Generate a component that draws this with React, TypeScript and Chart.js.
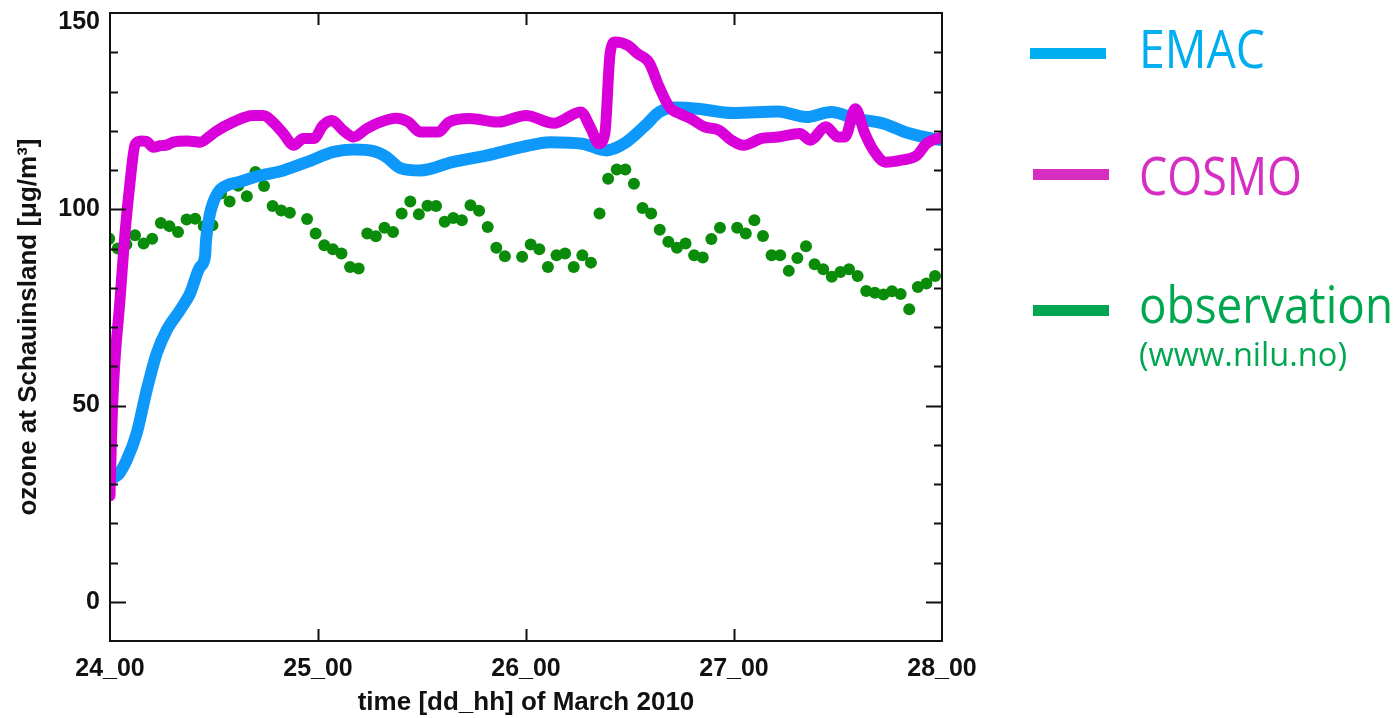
import React, { useEffect, useRef } from 'react';
import { Chart, registerables } from 'chart.js';

Chart.register(...registerables);

// ---------------- data ----------------
const dayLabels = ['24_00', '25_00', '26_00', '27_00', '28_00'];
const yLabelValues = [0, 50, 100, 150];

// EMAC model (hours since 24_00)
const emacHours = [
  0.35, 1.0, 1.93, 3.08, 4.23, 5.39, 6.54, 8.08, 9.23, 10.38, 10.96, 11.08, 11.54, 12.5, 13.5, 15.0,
  17.0, 20.0, 22.7, 25.8, 28.1, 30.4, 31.9, 33.5, 35.8, 39.5, 43.5, 47.6, 50.8, 54.5, 57.3, 59.3,
  61.8, 63.4, 65.4, 67.8, 71.9, 77.1, 80.4, 83.2, 86.0, 89.3, 91.7, 94.2, 96.0,
];
const emacValues = [
  31.5, 32.5, 36.1, 42.9, 53.9, 63.3, 69.2, 74.3, 78.5, 85.3, 87.9, 92.1, 98.9, 104.4, 106.1, 107,
  108.4, 109.9, 112, 114.6, 115.2, 114.8, 113.3, 110.5, 109.9, 112, 113.7, 115.9, 117.1, 116.7, 115, 116.7,
  121.4, 124.8, 125.9, 125.6, 124.5, 124.9, 123.5, 124.8, 123.1, 121.8, 119.7, 118.3, 117.6,
];

// COSMO model (hours since 24_00)
const cosmoHours = [
  0, 0.15, 0.3, 0.58, 1.15, 1.73, 2.3, 2.9, 3.6, 4.2, 5.0, 5.8, 6.6, 7.3, 8.9, 10.4,
  11.5, 12.2, 14.2, 16.5, 17.7, 18.8, 20.0, 21.2, 22.3, 23.5, 24.6, 25.6, 26.9, 28.1, 29.6, 31.2,
  33.0, 34.4, 35.8, 37.9, 39.1, 41.5, 44.8, 48.0, 51.2, 54.3, 55.5, 56.4, 57.1, 57.7, 58.3, 59.7,
  60.9, 62.2, 63.4, 64.6, 65.8, 67.0, 68.6, 70.3, 71.7, 73.1, 75.1, 77.1, 79.6, 80.8, 82.6, 84.0,
  84.8, 86.0, 87.1, 88.1, 89.5, 91.3, 93.1, 94.2, 96.0,
];
const cosmoValues = [
  27, 40, 50, 61.6, 76.8, 93.9, 106.6, 116.5, 117.4, 117.3, 115.8, 116.2, 116.4, 117.1, 117.4, 117.1,
  118.6, 119.8, 122.2, 123.9, 123.9, 122.2, 119.3, 116.3, 118, 118, 121.4, 122.6, 120.1, 118.4, 120.5, 122.2,
  123.2, 122.3, 119.7, 119.7, 122.2, 123.1, 122.2, 123.9, 121.9, 124.8, 120.5, 116.7, 119.3, 139.6, 142.6, 141.8,
  139.6, 137.4, 131, 125.9, 124.3, 123.1, 121, 120.1, 117.6, 116.3, 118, 118.4, 119.3, 117.6, 121, 118.4,
  118.4, 125.6, 119.3, 115, 112, 112.5, 113.7, 116.7, 118.4,
];

// hourly observations, 24_00 ... 28_00 (null = missing)
const obsValues = [
  92.5, 90.0, 91.0, 93.4, 91.3, 92.5, 96.5, 95.7, 94.2, 97.4, 97.6, 95.7, 95.9, 104, 102, 106,
  103.3, 109.5, 105.9, 100.8, 99.7, 99.1, null, 97.5, 93.8, 90.8, 89.8, 88.7, 85.3, 84.9, 93.8, 93.1,
  95.3, 94.2, 98.9, 102, 98.7, 100.9, 100.8, 96.8, 97.8, 97.2, 101, 99.6, 95.5, 90.2, 88, null,
  87.9, 91, 89.8, 85.3, 88.3, 88.7, 85.3, 88.3, 86.4, 98.9, 107.8, 110.1, 110.1, 106.5, 100.3, 98.9,
  94.8, 91.7, 90.2, 91.3, 88.3, 87.7, 92.4, 95.3, null, 95.3, 93.8, 97.2, 93.2, 88.3, 88.3, 84.3,
  87.6, 90.6, 86, 84.7, 82.8, 84, 84.7, 83, 79.2, 78.7, 78.3, 79.1, 78.4, 74.5, 80.2, 81.1,
  83,
];

// ---------------- styles ----------------
const AXIS_FONT = '"Liberation Sans", Arial, Helvetica, sans-serif';
const LEGEND_FONT = '"Open Sans", "Noto Sans", sans-serif';
const INK = '#111111';
const EMAC_COLOR = 'rgb(14,153,250)';
const COSMO_COLOR = 'rgb(218,0,218)';
const OBS_COLOR = 'rgb(10,140,10)';

const legendItems = [
  { text: 'EMAC', color: '#00aeef', x0: 1030, x1: 1106, lineY: 53.5, tx: 1139, ty: 68, size: 53, width: 126 },
  { text: 'COSMO', color: '#d62ec2', x0: 1033, x1: 1109, lineY: 174.5, tx: 1139, ty: 195, size: 53, width: 163 },
  { text: 'observation', color: '#00a650', x0: 1033, x1: 1109, lineY: 310.5, tx: 1139, ty: 323, size: 52, width: 254 },
];
const legendNote = { text: '(www.nilu.no)', color: '#00a650', tx: 1139, ty: 366, size: 32, width: 208 };

function drawFitted(ctx: CanvasRenderingContext2D, text: string, x: number, y: number, font: string, width: number, color: string) {
  ctx.save();
  ctx.font = font;
  ctx.fillStyle = color;
  ctx.textAlign = 'left';
  ctx.textBaseline = 'alphabetic';
  const w = ctx.measureText(text).width || 1;
  ctx.translate(x, y);
  ctx.scale(width / w, 1);
  ctx.fillText(text, 0, 0);
  ctx.restore();
}

const frameAndTicks = {
  id: 'frameAndTicks',
  afterDatasetsDraw(chart: any) {
    const { ctx, chartArea } = chart;
    const { left, right, top, bottom } = chartArea;
    const x = chart.scales.x;
    const y = chart.scales.y;
    ctx.save();
    ctx.strokeStyle = INK;
    ctx.lineWidth = 2;
    ctx.lineJoin = 'miter';
    ctx.strokeRect(left, top, right - left, bottom - top);
    ctx.beginPath();
    for (let v = y.min + 10; v < y.max; v += 10) {
      const py = Math.round(y.getPixelForValue(v)) + 0.5;
      const len = v % 50 === 0 ? 16 : 8;
      ctx.moveTo(left, py);
      ctx.lineTo(left + len, py);
      ctx.moveTo(right, py);
      ctx.lineTo(right - len, py);
    }
    dayLabels.forEach((_, i) => {
      if (i === 0 || i === dayLabels.length - 1) return;
      const px = Math.round(x.getPixelForValue(i * 24)) + 0.5;
      ctx.moveTo(px, bottom);
      ctx.lineTo(px, bottom - 12);
      ctx.moveTo(px, top);
      ctx.lineTo(px, top + 12);
    });
    ctx.stroke();
    ctx.restore();
  },
  afterDraw(chart: any) {
    const ctx = chart.ctx as CanvasRenderingContext2D;
    legendItems.forEach((it) => {
      ctx.save();
      ctx.fillStyle = it.color;
      ctx.fillRect(it.x0, it.lineY - 5.5, it.x1 - it.x0, 11);
      ctx.restore();
      drawFitted(ctx, it.text, it.tx, it.ty, `${it.size}px ${LEGEND_FONT}`, it.width, it.color);
    });
    drawFitted(ctx, legendNote.text, legendNote.tx, legendNote.ty, `${legendNote.size}px ${LEGEND_FONT}`, legendNote.width, legendNote.color);
  },
};

export default function App() {
  const ref = useRef<HTMLCanvasElement | null>(null);

  useEffect(() => {
    document.body.style.margin = '0';
    const canvas = ref.current;
    if (!canvas) return;

    const tickFont = { family: AXIS_FONT, size: 25, weight: 'bold' as const };
    const titleFont = { family: AXIS_FONT, size: 26, weight: 'bold' as const };
    const topLabel = yLabelValues[yLabelValues.length - 1];

    const chart = new Chart(canvas, {
      type: 'line',
      data: {
        datasets: [
          {
            label: 'COSMO',
            data: cosmoHours.map((h, i) => ({ x: h, y: cosmoValues[i] })),
            borderColor: COSMO_COLOR,
            backgroundColor: COSMO_COLOR,
            borderWidth: 11,
            pointRadius: 0,
            cubicInterpolationMode: 'monotone',
            borderCapStyle: 'round',
            borderJoinStyle: 'round',
            fill: false,
            order: 1,
            clip: 0,
            xAxisID: 'x',
            yAxisID: 'y',
          },
          {
            label: 'EMAC',
            data: emacHours.map((h, i) => ({ x: h, y: emacValues[i] })),
            borderColor: EMAC_COLOR,
            backgroundColor: EMAC_COLOR,
            borderWidth: 12,
            pointRadius: 0,
            cubicInterpolationMode: 'monotone',
            borderCapStyle: 'round',
            borderJoinStyle: 'round',
            fill: false,
            order: 2,
            clip: 0,
            xAxisID: 'x',
            yAxisID: 'y',
          },
          {
            label: 'observation',
            data: obsValues.map((v, i) => ({ x: i, y: v })),
            showLine: false,
            pointRadius: 6,
            pointBorderWidth: 0,
            pointBackgroundColor: OBS_COLOR,
            pointBorderColor: OBS_COLOR,
            backgroundColor: OBS_COLOR,
            borderColor: OBS_COLOR,
            order: 3,
            clip: 0,
            xAxisID: 'xObs',
            yAxisID: 'y',
          },
        ],
      },
      options: {
        responsive: false,
        animation: false,
        events: [],
        layout: { padding: { top: 13, right: 454, left: 0, bottom: 0 } },
        plugins: { legend: { display: false }, tooltip: { enabled: false } },
        scales: {
          x: {
            type: 'linear',
            position: 'bottom',
            min: 0,
            max: 96,
            afterFit: (s: any) => {
              s.height = 77;
              s.paddingLeft = 0;
              s.paddingRight = 0;
            },
            afterBuildTicks: (s: any) => {
              s.ticks = dayLabels.map((_, i) => ({ value: i * 24 }));
            },
            ticks: {
              callback: (v: any) => dayLabels[Math.round(Number(v) / 24)],
              font: tickFont,
              color: INK,
              padding: 13,
              maxRotation: 0,
              autoSkip: false,
            },
            grid: { display: false, drawTicks: false },
            border: { display: false },
            title: {
              display: true,
              text: 'time [dd_hh] of March 2010',
              font: titleFont,
              color: INK,
              padding: { top: 0, bottom: 0 },
            },
          },
          // observation timestamps as laid out in the source figure
          xObs: {
            type: 'linear',
            display: false,
            min: 0.094,
            max: 96.81,
          },
          y: {
            type: 'linear',
            min: -10,
            max: 150,
            afterFit: (s: any) => {
              s.width = 110;
              s.paddingTop = 0;
              s.paddingBottom = 0;
            },
            afterBuildTicks: (s: any) => {
              s.ticks = yLabelValues.map((v) => ({ value: v }));
            },
            ticks: {
              // the top label sits just below the frame corner, as in the source
              callback: (v: any) => (Number(v) === topLabel ? ['', String(v)] : String(v)),
              font: (c: any) =>
                c.tick && c.tick.value === topLabel ? { ...tickFont, lineHeight: 0.72 } : tickFont,
              color: INK,
              padding: 10,
            },
            grid: { display: false, drawTicks: false },
            border: { display: false },
            title: {
              display: true,
              text: 'ozone at Schauinsland [\u03bcg/m\u00b3]',
              font: titleFont,
              color: INK,
              padding: { top: 13, bottom: 0 },
            },
          },
        },
      } as any,
      plugins: [frameAndTicks],
    });

    return () => chart.destroy();
  }, []);

  return <canvas ref={ref} width={1396} height={718} style={{ display: 'block', width: 1396, height: 718 }} />;
}
